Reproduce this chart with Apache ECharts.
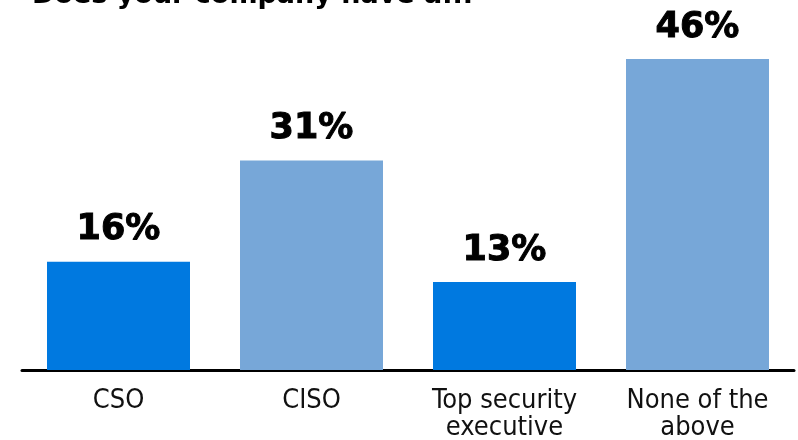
<!DOCTYPE html>
<html><head><meta charset="utf-8">
<script src="https://cdn.jsdelivr.net/npm/echarts@6/dist/echarts.min.js"></script>
<style>html,body{margin:0;padding:0;background:#fff}#c{width:798px;height:440px}</style>
</head><body><div id="c"></div>
<script>
const titleText = "Does your company have a...";
const categories = ["CSO", "CISO", "Top security\nexecutive", "None of the\nabove"];
const values = [16, 31, 13, 46];
const barColors = ["#0079e0", "#77a7d8", "#0079e0", "#77a7d8"];

const chart = echarts.init(document.getElementById('c'));
chart.setOption({
  animation: false,
  title: {
    text: titleText, left: 27, top: -23,
    textStyle: {fontFamily: "DejaVu Sans", fontWeight: "bold", fontSize: 27, color: "#000"}
  },
  grid: {left: 22, right: 4, top: 59, bottom: 70, outerBoundsMode: "none", containLabel: false},
  xAxis: {
    type: "category", data: categories,
    axisLine: {lineStyle: {color: "#000", width: 3}},
    axisTick: {show: false},
    axisLabel: {fontFamily: "Liberation Sans Narrow, DejaVu Sans Condensed", fontSize: 27, color: "#111", margin: 17, lineHeight: 27, interval: 0}
  },
  yAxis: {type: "value", min: 0, max: 46, show: false, splitLine: {show: false}},
  series: [{
    type: "bar", barWidth: 143,
    data: values.map((v, i) => ({value: v, itemStyle: {color: barColors[i]}})),
    label: {
      show: true, position: "top", distance: 14,
      formatter: p => p.value + "%",
      fontFamily: "DejaVu Sans", fontWeight: "bold", fontSize: 35, color: "#000",
      textBorderColor: "#000", textBorderWidth: 1
    }
  }]
});
</script></body></html>
